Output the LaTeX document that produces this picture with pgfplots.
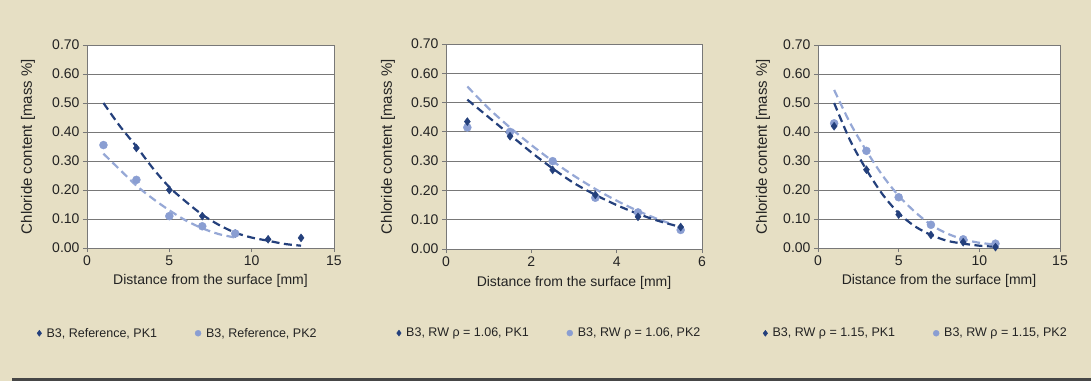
\documentclass[border=0pt]{standalone}
\usepackage{fontspec}
\setmainfont{Liberation Sans}
\usepackage{pgfplots}
\pgfplotsset{compat=1.18}
\definecolor{bg}{RGB}{230,223,196}
\definecolor{dk}{RGB}{36,64,124}
\definecolor{lt}{RGB}{138,158,210}
\definecolor{ltline}{RGB}{150,168,214}
\definecolor{txt}{RGB}{35,35,35}
\definecolor{gridc}{RGB}{120,120,120}
\newcommand{\tf}{\fontsize{14}{14}\selectfont}
\newcommand{\lf}{\fontsize{12.5}{12.5}\selectfont}

\pgfplotsset{
  chl/.style={
    scale only axis, height=203pt,
    axis background/.style={fill=white},
    ymin=0, ymax=0.7, ytick={0,0.1,0.2,0.3,0.4,0.5,0.6,0.7},
    ymajorgrids, grid style={gridc, line width=0.8pt},
    axis line style={gridc, line width=0.8pt},
    tick style={gridc, line width=0.8pt},
    tick align=outside, major tick length=4pt,
    xtick pos=lower, ytick pos=left,
    ticklabel style={font=\tf, text=txt},
    yticklabel style={/pgf/number format/.cd, fixed, fixed zerofill, precision=2, assume math mode=true},
    xticklabel style={/pgf/number format/assume math mode=true},
    xlabel={Distance from the surface [mm]},
    ylabel={Chloride content [mass \%]},
    xlabel style={font=\tf, text=txt, at={(axis description cs:0.5,-0.163)}, anchor=center},
    ylabel style={font=\fontsize{15}{15}\selectfont, text=txt, anchor=center},
    legend style={draw=none, fill=none, font=\lf, text=txt, legend columns=2,
      anchor=west, /tikz/every even column/.append style={column sep=36pt},
      legend cell align=left},
    legend image post style={scale=0.75},
  },
  pk1/.style={only marks, mark=diamond*, mark size=4pt, color=dk},
  pk2/.style={only marks, mark=*, mark size=4pt, color=lt},
  tr1/.style={dk, line width=2.2pt, dash pattern=on 8pt off 4.5pt, smooth, no marks, forget plot},
  tr2/.style={ltline, line width=2.2pt, dash pattern=on 8pt off 4.5pt, smooth, no marks, forget plot},
}

\begin{document}
\begin{tikzpicture}
\fill[bg] (0,0) rectangle (1091pt,381pt);
\fill[gray!55!black] (12pt,0) rectangle (1091pt,3pt);

% Panel 1
\begin{axis}[chl, width=247pt, at={(87pt,133pt)}, anchor=south west,
  xmin=0, xmax=15, xtick={0,5,10,15},
  ylabel style={at={(axis description cs:-0.239,0.5)}},
  legend style={at={(axis description cs:-0.215,-0.42)}}]
\addplot[tr2] coordinates {(1,0.325) (2,0.27) (3,0.215) (4,0.17) (5,0.13) (6,0.095) (7,0.068) (8,0.048) (9,0.036)};
\addplot[tr1] coordinates {(1,0.50) (2,0.42) (3,0.35) (4,0.275) (5,0.21) (6,0.16) (7,0.115) (8,0.08) (9,0.053) (10,0.036) (11,0.025) (12,0.014) (13,0.008)};
\addplot[pk1] coordinates {(3,0.345) (5,0.20) (7,0.11) (9,0.05) (11,0.03) (13,0.035)};
\addplot[pk2] coordinates {(1,0.355) (3,0.235) (5,0.11) (7,0.075) (9,0.05)};
\legend{{\hspace{3pt}B3, Reference, PK1}, {\hspace{3pt}B3, Reference, PK2}}
\end{axis}

% Panel 2
\begin{axis}[chl, width=256pt, height=205pt, at={(446pt,132pt)}, anchor=south west,
  xmin=0, xmax=6, xtick={0,2,4,6},
  ylabel style={at={(axis description cs:-0.227,0.5)}},
  legend style={at={(axis description cs:-0.205,-0.41)}}]
\addplot[tr2] coordinates {(0.5,0.555) (1,0.48) (1.5,0.415) (2,0.355) (2.5,0.30) (3,0.25) (3.5,0.205) (4,0.165) (4.5,0.13) (5,0.10) (5.3,0.085)};
\addplot[tr1] coordinates {(0.5,0.51) (1,0.45) (1.5,0.39) (2,0.33) (2.5,0.275) (3,0.225) (3.5,0.185) (4,0.15) (4.5,0.12) (5,0.095) (5.5,0.075)};
\addplot[pk2, forget plot] coordinates {(0.5,0.415) (1.5,0.40) (2.5,0.30) (3.5,0.175) (4.5,0.125) (5.5,0.065)};
\addplot[pk1] coordinates {(0.5,0.435) (1.5,0.385) (2.5,0.27) (3.5,0.185) (4.5,0.11) (5.5,0.075)};
\addlegendimage{pk2}
\legend{{\hspace{3pt}B3, RW ρ = 1.06, PK1}, {\hspace{3pt}B3, RW ρ = 1.06, PK2}}
\end{axis}

% Panel 3
\begin{axis}[chl, width=242pt, at={(818pt,133pt)}, anchor=south west,
  xmin=0, xmax=15, xtick={0,5,10,15},
  ylabel style={at={(axis description cs:-0.227,0.5)}},
  legend style={at={(axis description cs:-0.24,-0.42)}}]
\addplot[tr2] coordinates {(1,0.545) (2,0.43) (3,0.335) (4,0.25) (5,0.18) (6,0.125) (7,0.08) (8,0.05) (9,0.03) (10,0.018) (11,0.012)};
\addplot[tr1] coordinates {(1,0.50) (2,0.37) (3,0.27) (4,0.185) (5,0.12) (6,0.075) (7,0.045) (8,0.025) (9,0.015) (10,0.008) (10.8,0.005)};
\addplot[pk2, forget plot] coordinates {(1,0.43) (3,0.335) (5,0.175) (7,0.08) (9,0.03) (11,0.015)};
\addplot[pk1] coordinates {(1,0.42) (3,0.27) (5,0.115) (7,0.045) (9,0.02) (11,0.003)};
\addlegendimage{pk2}
\legend{{\hspace{3pt}B3, RW ρ = 1.15, PK1}, {\hspace{3pt}B3, RW ρ = 1.15, PK2}}
\end{axis}

\pgfresetboundingbox
\path[use as bounding box] (0,0) rectangle (1091pt,381pt);
\end{tikzpicture}
\end{document}
